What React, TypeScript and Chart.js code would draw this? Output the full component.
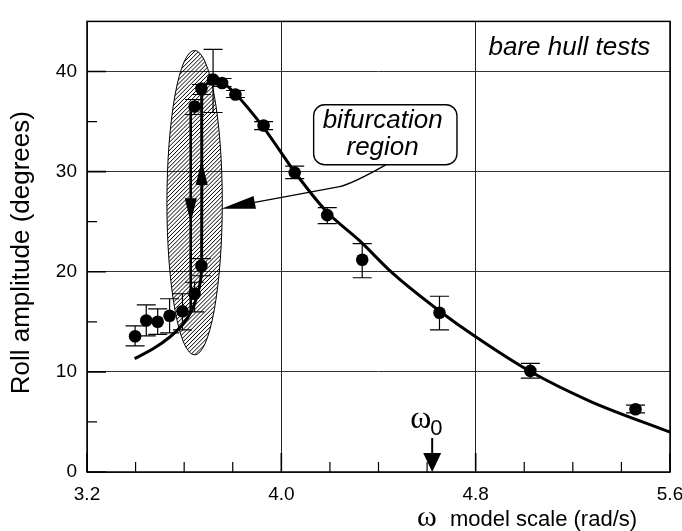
import React, { useEffect, useRef } from "react";
import { Chart, registerables } from "chart.js";
Chart.register(...registerables);

// ---- axis ticks ----
const xTicks = [3.2, 4.0, 4.8, 5.6];
const yTicks = [0, 10, 20, 30, 40];
const xMinorTicks = [3.4, 3.6, 3.8, 4.2, 4.4, 4.6, 5.0, 5.2, 5.4];
const yMinorTicks = [5, 15, 25, 35];

// ---- measured points (omega rad/s, roll amplitude deg) ----
const omega = [3.398, 3.444, 3.491, 3.54, 3.593, 3.643, 3.671, 3.643, 3.671, 3.719, 3.756, 3.811, 3.927, 4.055, 4.189, 4.333, 4.651, 5.025, 5.458];
const roll = [13.56, 15.13, 15.0, 15.6, 16.05, 17.8, 20.6, 36.5, 38.3, 39.2, 38.85, 37.7, 34.6, 29.9, 25.65, 21.2, 15.9, 10.1, 6.27];
const rollHi = [14.6, 16.7, 16.3, 17.3, 17.8, 18.95, 21.3, 37.2, 38.7, 42.2, 39.3, 38.1, 35.0, 30.55, 26.4, 22.8, 17.55, 10.85, 6.67];
const rollLo = [12.6, 13.6, 13.75, 13.9, 14.2, 16.0, 19.6, 35.7, 37.7, 35.9, 38.5, 37.4, 34.2, 29.3, 24.8, 19.4, 14.2, 9.37, 5.9];

// ---- fitted curves ----
const lowerX = [3.396, 3.472, 3.54, 3.595, 3.63, 3.653, 3.668, 3.672, 3.672];
const lowerY = [11.33, 12.3, 13.46, 14.76, 16.08, 17.55, 19.2, 21.0, 38.3];
const upperX = [3.672, 3.72, 3.76, 3.81, 3.93, 4.055, 4.185, 4.322, 4.459, 4.651, 4.8, 5.025, 5.269, 5.6];
const upperY = [38.3, 39.15, 38.85, 37.8, 34.3, 29.96, 26.04, 23.1, 19.83, 16.08, 13.5, 10.03, 7.09, 3.98];
const jumpX = [3.627, 3.627];
const jumpY = [36.3, 16.0];

// ---- annotations (data units) ----
const ellipseC = [3.643, 26.9];
const ellipseR = [0.114, 15.2];
const downArrow = [3.627, 27.35, 24.9]; // x, base, tip
const upArrow = [3.672, 28.66, 31.1];
const omega0 = 4.621;
const pointerPath = [[3.753, 26.3], [4.24, 28.5], [4.289, 28.74], [4.432, 30.69]];
const boxX = [4.133, 4.723];
const boxY = [36.67, 30.69];
const boxLabel = ["bifurcation", "region"];
const boxLabelX = 4.417;
const boxLabelY = [34.37, 31.65];
const cornerLabel = "bare hull tests";
const cornerLabelPos = [5.186, 41.65];

const SANS = '"Liberation Sans", Arial, sans-serif';
const SERIF = '"Liberation Serif", "DejaVu Serif", serif';

function tri(ctx: CanvasRenderingContext2D, tx: number, ty: number, bx: number, by: number, hw: number) {
  const dx = tx - bx, dy = ty - by;
  const L = Math.hypot(dx, dy) || 1;
  const nx = -dy / L, ny = dx / L;
  ctx.beginPath();
  ctx.moveTo(tx, ty);
  ctx.lineTo(bx + nx * hw, by + ny * hw);
  ctx.lineTo(bx - nx * hw, by - ny * hw);
  ctx.closePath();
  ctx.fill();
}

const annot = {
  id: "annot",
  beforeDatasetsDraw(chart: any) {
    const ctx = chart.ctx as CanvasRenderingContext2D;
    const xs = chart.scales.x, ys = chart.scales.y;
    const X = (v: number) => xs.getPixelForValue(v);
    const Y = (v: number) => ys.getPixelForValue(v);
    // hatched ellipse
    const cx = X(ellipseC[0]), cy = Y(ellipseC[1]);
    const rx = X(ellipseC[0] + ellipseR[0]) - cx;
    const ry = cy - Y(ellipseC[1] + ellipseR[1]);
    ctx.save();
    ctx.beginPath();
    ctx.ellipse(cx, cy, rx, ry, 0, 0, Math.PI * 2);
    ctx.save();
    ctx.clip();
    ctx.strokeStyle = "#000";
    ctx.lineWidth = 1;
    const top = cy - ry, bot = cy + ry, H = bot - top;
    for (let d = cx - rx - H; d < cx + rx + 2; d += 4.1) {
      ctx.beginPath();
      ctx.moveTo(d, bot);
      ctx.lineTo(d + H, top);
      ctx.stroke();
    }
    ctx.restore();
    ctx.beginPath();
    ctx.ellipse(cx, cy, rx, ry, 0, 0, Math.PI * 2);
    ctx.lineWidth = 1;
    ctx.strokeStyle = "#000";
    ctx.stroke();
    // error bars
    ctx.lineWidth = 1.2;
    for (let i = 0; i < omega.length; i++) {
      const x = X(omega[i]);
      const yh = Y(rollHi[i]), yl = Y(rollLo[i]);
      ctx.beginPath();
      ctx.moveTo(x, yh); ctx.lineTo(x, yl);
      ctx.moveTo(x - 9.5, yh); ctx.lineTo(x + 9.5, yh);
      ctx.moveTo(x - 9.5, yl); ctx.lineTo(x + 9.5, yl);
      ctx.stroke();
    }
    ctx.restore();
  },
  afterDatasetsDraw(chart: any) {
    const ctx = chart.ctx as CanvasRenderingContext2D;
    const xs = chart.scales.x, ys = chart.scales.y;
    const X = (v: number) => xs.getPixelForValue(v);
    const Y = (v: number) => ys.getPixelForValue(v);
    ctx.save();
    ctx.fillStyle = "#000";
    ctx.strokeStyle = "#000";
    // jump arrows
    tri(ctx, X(downArrow[0]), Y(downArrow[2]), X(downArrow[0]), Y(downArrow[1]), 6);
    tri(ctx, X(upArrow[0]), Y(upArrow[2]), X(upArrow[0]), Y(upArrow[1]), 6);
    // pointer
    const p = pointerPath.map(([a, b]) => [X(a), Y(b)]);
    const dx = p[1][0] - p[0][0], dy = p[1][1] - p[0][1];
    const L = Math.hypot(dx, dy);
    const bx = p[0][0] + (dx / L) * 34, by = p[0][1] + (dy / L) * 34;
    ctx.lineWidth = 1.3;
    ctx.beginPath();
    ctx.moveTo(bx, by);
    ctx.lineTo(p[1][0], p[1][1]);
    ctx.quadraticCurveTo(p[2][0], p[2][1], p[3][0], p[3][1]);
    ctx.stroke();
    tri(ctx, p[0][0], p[0][1], bx, by, 6.5);
    // label box
    const x0 = X(boxX[0]), x1 = X(boxX[1]), y0 = Y(boxY[0]), y1 = Y(boxY[1]);
    ctx.beginPath();
    ctx.roundRect(x0, y0, x1 - x0, y1 - y0, 11);
    ctx.fillStyle = "#fff";
    ctx.fill();
    ctx.lineWidth = 1.4;
    ctx.stroke();
    ctx.fillStyle = "#000";
    ctx.font = `italic 26px ${SANS}`;
    ctx.textAlign = "center";
    ctx.textBaseline = "alphabetic";
    ctx.fillText(boxLabel[0], X(boxLabelX), Y(boxLabelY[0]));
    ctx.fillText(boxLabel[1], X(boxLabelX), Y(boxLabelY[1]));
    ctx.fillText(cornerLabel, X(cornerLabelPos[0]), Y(cornerLabelPos[1]));
    // omega0 marker
    const ox = X(omega0), ob = chart.chartArea.bottom;
    ctx.lineWidth = 2;
    ctx.beginPath();
    ctx.moveTo(ox, ob - 34);
    ctx.lineTo(ox, ob - 16);
    ctx.stroke();
    tri(ctx, ox, ob, ox, ob - 19, 9);
    ctx.textAlign = "left";
    ctx.font = `32px ${SERIF}`;
    ctx.fillText("\u03c9", ox - 22, ob - 44);
    ctx.font = `22px ${SANS}`;
    ctx.fillText("0", ox - 2, ob - 37);
    ctx.restore();
  },
  afterDraw(chart: any) {
    const ctx = chart.ctx as CanvasRenderingContext2D;
    const a = chart.chartArea;
    const xs = chart.scales.x, ys = chart.scales.y;
    ctx.save();
    ctx.strokeStyle = "#000";
    // inner ticks
    ctx.lineWidth = 1.6;
    ctx.beginPath();
    for (const v of yTicks) { const y = ys.getPixelForValue(v); ctx.moveTo(a.left, y); ctx.lineTo(a.left + 19, y); }
    for (const v of xTicks) { const x = xs.getPixelForValue(v); ctx.moveTo(x, a.bottom); ctx.lineTo(x, a.bottom - 19); }
    ctx.stroke();
    ctx.lineWidth = 1.2;
    ctx.beginPath();
    for (const v of yMinorTicks) { const y = ys.getPixelForValue(v); ctx.moveTo(a.left, y); ctx.lineTo(a.left + 10, y); }
    for (const v of xMinorTicks) { const x = xs.getPixelForValue(v); ctx.moveTo(x, a.bottom); ctx.lineTo(x, a.bottom - 10); }
    ctx.stroke();
    // frame
    ctx.lineWidth = 1.5;
    ctx.strokeRect(a.left, a.top, a.right - a.left, a.bottom - a.top);
    // axis titles
    ctx.fillStyle = "#000";
    ctx.textBaseline = "alphabetic";
    ctx.font = `30px ${SERIF}`;
    ctx.textAlign = "left";
    ctx.fillText("\u03c9", a.left + 330, a.bottom + 54);
    ctx.font = `22px ${SANS}`;
    ctx.fillText("model scale (rad/s)", a.left + 363, a.bottom + 54);
    ctx.translate(29, (a.top + a.bottom) / 2 + 6);
    ctx.rotate(-Math.PI / 2);
    ctx.textAlign = "center";
    ctx.font = `26px ${SANS}`;
    ctx.fillText("Roll amplitude (degrees)", 0, 0);
    ctx.restore();
  },
};

export default function App() {
  const ref = useRef<HTMLCanvasElement>(null);
  useEffect(() => {
    const pts = omega.map((x, i) => ({ x, y: roll[i] }));
    const lower = lowerX.map((x, i) => ({ x, y: lowerY[i] }));
    const upper = upperX.map((x, i) => ({ x, y: upperY[i] }));
    const jump = jumpX.map((x, i) => ({ x, y: jumpY[i] }));
    const tickFont = { family: SANS, size: 19 };
    const chart = new Chart(ref.current as HTMLCanvasElement, {
      type: "scatter",
      data: {
        datasets: [
          { data: pts, pointRadius: 6.3, pointBackgroundColor: "#000", pointBorderColor: "#000", pointBorderWidth: 0, showLine: false },
          { data: upper, showLine: true, pointRadius: 0, borderColor: "#000", borderWidth: 3, cubicInterpolationMode: "monotone" },
          { data: lower, showLine: true, pointRadius: 0, borderColor: "#000", borderWidth: 3, tension: 0.4 },
          { data: jump, showLine: true, pointRadius: 0, borderColor: "#000", borderWidth: 2.6, tension: 0 },
        ],
      } as any,
      options: {
        animation: false,
        responsive: false,
        layout: { padding: { left: 0, right: 12, top: 14, bottom: 0 } },
        plugins: { legend: { display: false }, tooltip: { enabled: false } },
        scales: {
          x: {
            type: "linear",
            min: 3.2,
            max: 5.6,
            afterBuildTicks: (s: any) => { s.ticks = xTicks.map((v) => ({ value: v })); },
            afterFit: (s: any) => { s.height = 59; s.paddingLeft = 0; s.paddingRight = 0; },
            ticks: { callback: (v: any) => Number(v).toFixed(1), font: tickFont, color: "#000", padding: 11, maxRotation: 0, autoSkip: false },
            grid: { color: "#222", lineWidth: 1, drawTicks: false },
            border: { display: false },
          },
          y: {
            type: "linear",
            min: 0,
            max: 45,
            afterBuildTicks: (s: any) => { s.ticks = yTicks.map((v) => ({ value: v })); },
            afterFit: (s: any) => { s.width = 87; },
            ticks: { font: tickFont, color: "#000", padding: 10 },
            grid: { color: "#333", lineWidth: 1, drawTicks: false },
            border: { display: false },
          },
        },
      } as any,
      plugins: [annot as any],
    });
    return () => chart.destroy();
  }, []);
  return (
    <div style={{ position: "absolute", left: 0, top: 0, width: 682, height: 531, background: "#fff" }}>
      <canvas ref={ref} width={682} height={531} style={{ width: 682, height: 531, display: "block" }} />
    </div>
  );
}
